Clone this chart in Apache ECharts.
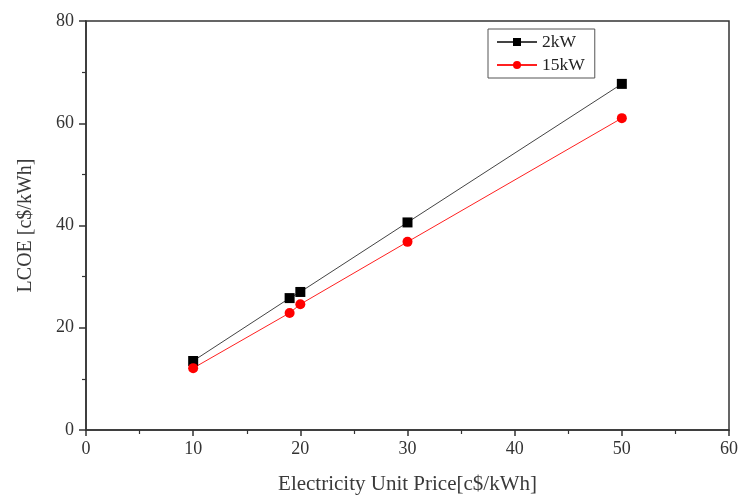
<!DOCTYPE html>
<html>
<head>
<meta charset="utf-8">
<script src="https://cdn.jsdelivr.net/npm/echarts@6/dist/echarts.min.js"></script>
<style>html,body{margin:0;padding:0;background:#fff}#c{width:741px;height:498px}</style>
</head>
<body>
<div id="c"></div>
<script>
const xPrice = [10, 19, 20, 30, 50];
const lcoe2kW = [13.5, 25.8, 27.0, 40.6, 67.7];
const lcoe15kW = [12.1, 22.9, 24.6, 36.8, 61.0];
const seriesNames = ['2kW', '15kW'];
const xTitle = 'Electricity Unit Price[c$/kWh]';
const yTitle = 'LCOE [c$/kWh]';

const font = 'Liberation Serif, Times New Roman, serif';
const chart = echarts.init(document.getElementById('c'));
chart.setOption({
  animation: false,
  backgroundColor: '#fff',
  textStyle: {fontFamily: font},
  grid: {left: 86, right: 12, top: 21, bottom: 68, outerBoundsMode: 'none', show: true, borderColor: '#333', borderWidth: 1.5, backgroundColor: 'transparent'},
  legend: {
    orient: 'vertical', left: 488, top: 29,
    data: seriesNames,
    borderColor: '#555', borderWidth: 1, padding: [4, 10, 4, 8],
    itemWidth: 40, itemHeight: 10, itemGap: 5,
    textStyle: {fontFamily: font, fontSize: 17.5, color: '#222'}
  },
  xAxis: {
    type: 'value', min: 0, max: 60, interval: 10,
    name: xTitle, nameLocation: 'middle', nameGap: 44,
    nameTextStyle: {fontFamily: font, fontSize: 21, color: '#3a3a3a'},
    axisLine: {show: true, lineStyle: {color: '#333', width: 1.5}},
    axisTick: {show: true, inside: false, length: 6, lineStyle: {color: '#333', width: 1.5}},
    minorTick: {show: true, splitNumber: 2, length: 4, lineStyle: {color: '#333', width: 1.2}},
    axisLabel: {fontFamily: font, fontSize: 18, color: '#333', margin: 10},
    splitLine: {show: false}
  },
  yAxis: {
    type: 'value', min: 0, max: 80, interval: 20,
    name: yTitle, nameLocation: 'middle', nameGap: 50,
    nameTextStyle: {fontFamily: font, fontSize: 20, color: '#3a3a3a'},
    axisLine: {show: true, lineStyle: {color: '#333', width: 1.5}},
    axisTick: {show: true, inside: false, length: 7, lineStyle: {color: '#333', width: 1.5}},
    minorTick: {show: true, splitNumber: 2, length: 4, lineStyle: {color: '#333', width: 1.2}},
    axisLabel: {fontFamily: font, fontSize: 18, color: '#333', margin: 12},
    splitLine: {show: false}
  },
  series: [
    {
      name: seriesNames[0], type: 'line',
      data: xPrice.map((x, i) => [x, lcoe2kW[i]]),
      symbol: 'rect', symbolSize: 10,
      lineStyle: {color: '#444', width: 1},
      itemStyle: {color: '#000'}
    },
    {
      name: seriesNames[1], type: 'line',
      data: xPrice.map((x, i) => [x, lcoe15kW[i]]),
      symbol: 'circle', symbolSize: 10,
      lineStyle: {color: '#ff2020', width: 1},
      itemStyle: {color: '#ff0000'}
    }
  ]
});
</script>
</body>
</html>
